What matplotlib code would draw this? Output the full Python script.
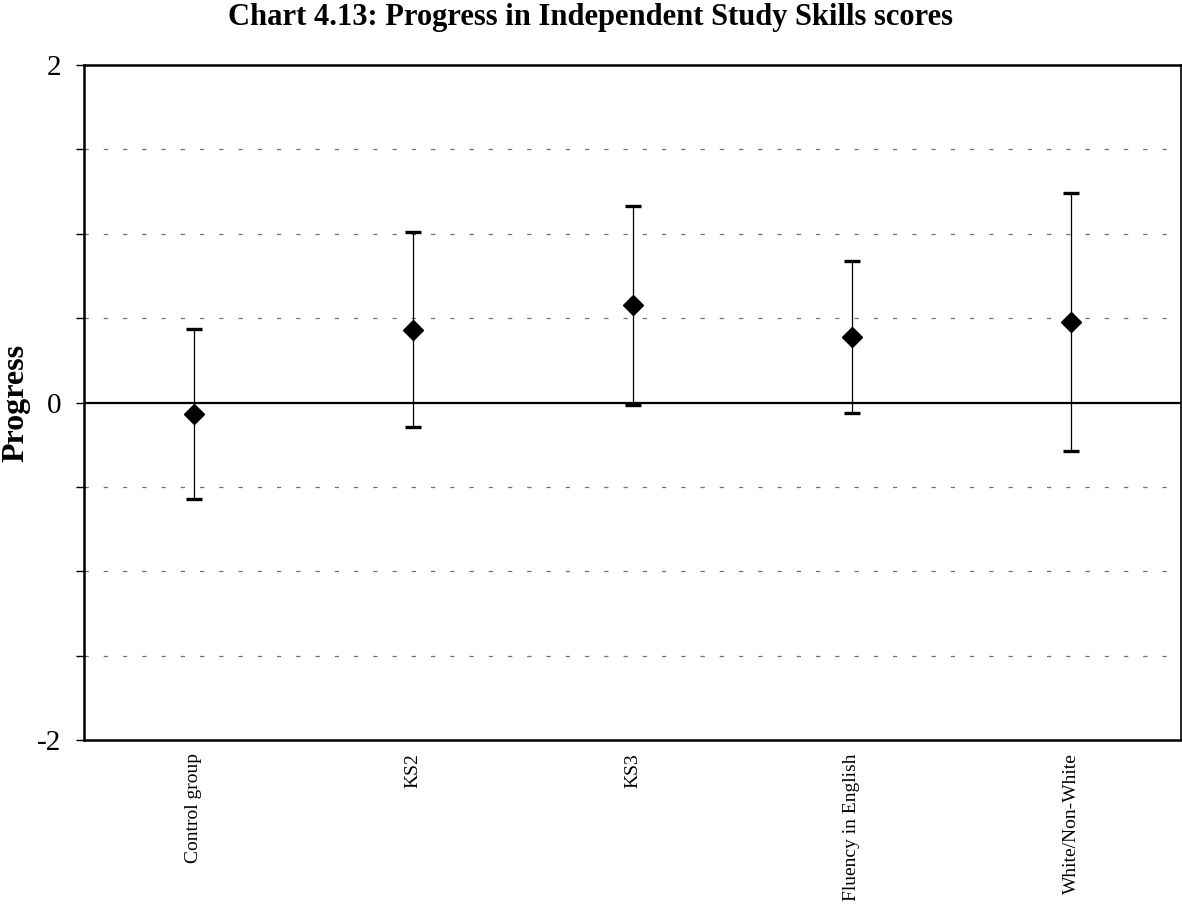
import matplotlib
matplotlib.use("Agg")
import matplotlib.pyplot as plt
import numpy as np

# Progress estimates with their confidence half-widths
categories = ["Control group", "KS2", "KS3", "Fluency in English", "White/Non-White"]
means = [-0.067, 0.431, 0.575, 0.389, 0.476]
half_widths = [0.504, 0.577, 0.592, 0.450, 0.765]

plt.rcParams["font.family"] = ["Liberation Serif", "DejaVu Serif"]

fig = plt.figure(figsize=(11.82, 9.08), dpi=100)
ax = fig.add_axes([0.0711, 0.185, 0.9281, 0.7434])

x = np.arange(len(categories))

# horizontal dashed grid at every 0.5 step
for yv in [-1.5, -1.0, -0.5, 0.5, 1.0, 1.5]:
    ax.axhline(yv, color="#707070", lw=0.9, linestyle=(0, (3.4, 12.0)), zorder=1)
ax.axhline(0, color="black", lw=1.6, zorder=2)

ax.errorbar(x, means, yerr=half_widths, fmt="D", color="black",
            markersize=10, elinewidth=0.9, ecolor="black",
            capsize=5.8, capthick=2.4, zorder=3)

ax.set_xlim(-0.5, len(categories) - 0.5)
ax.set_ylim(-2, 2)

ax.set_yticks(np.arange(-2, 2.01, 0.5))
ax.set_yticklabels(["-2", "", "", "", "0", "", "", "", "2"], fontsize=21)
ax.tick_params(axis="y", direction="out", length=5.5, width=1, pad=11)

ax.set_xticks(x)
ax.set_xticklabels(categories, rotation=90, fontsize=14, va="top")
ax.tick_params(axis="x", length=0, pad=9.5)

for side in ["left", "bottom", "top"]:
    ax.spines[side].set_linewidth(1.8)
ax.spines["right"].set_linewidth(1.2)

ax.set_ylabel("Progress", fontsize=23, fontweight="bold", labelpad=0)
ax.yaxis.set_label_coords(-0.0485, 0.5)

fig.text(0.5, 1 - 25 / 908, "Chart 4.13: Progress in Independent Study Skills scores",
         fontsize=22, fontweight="bold", ha="center", va="baseline")

fig.savefig("out.png", dpi=100, facecolor="white")
